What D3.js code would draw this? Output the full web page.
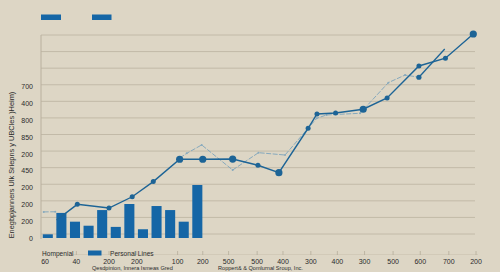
<!DOCTYPE html>
<html>
<head>
<meta charset="utf-8">
<script src="https://cdn.jsdelivr.net/npm/d3@7"></script>
<style>
  html, body { margin: 0; padding: 0; background: #ddd6c5; }
  svg { display: block; }
  text { font-family: "Liberation Sans", Arial, sans-serif; fill: #2b2b2b; }
</style>
</head>
<body>
<svg id="chart" width="500" height="272"></svg>
<script>
// ---- data ----
const yTickValues = [0, 100, 200, 300, 400, 500, 600, 700, 800, 900];
const yTickLabels = ["0", "200", "200", "200", "450", "200", "850", "800", "400", "700"];
const gridValues = [0, 100, 200, 300, 400, 500, 600, 700, 800, 900, 1000, 1100, 1200];

const barPos = [0.5, 1.5, 2.5, 3.5, 4.5, 5.5, 6.5, 7.5, 8.5, 9.5, 10.5, 11.5];
const barValues = [16, 143, 91, 67, 160, 60, 196, 46, 184, 160, 91, 309];

const mainX = [1.15, 2.67, 5.0, 6.71, 8.26, 10.2, 11.9, 14.1, 15.96, 17.5, 19.65, 20.3, 21.67, 23.7, 25.46, 27.8, 29.75, 31.8];
const mainY = [101, 194, 172, 239, 329, 462, 462, 463, 426, 382, 646, 731, 737, 759, 826, 1016, 1062, 1206];
const mainBig = [false, false, false, false, false, true, true, true, false, true, false, false, false, true, false, false, false, true];

const branchX = [27.8, 29.7];
const branchY = [949, 1117];

const lightX = [0.2, 1.05, null, 10.22, 10.72, 11.82, 14.1, 16.0, 17.95, 20.28, 21.0, 23.47, 25.55, 26.78, 27.83];
const lightY = [149, 150, null, 470, 497, 547, 398, 501, 487, 705, 725, 735, 917, 962, 949];

const xTickPos = [0.3, 2.6, 5.0, 7.05, 10.05, 11.9, 13.8, 15.9, 17.8, 19.85, 21.8, 23.8, 25.9, 27.9, 30.0, 32.0];
const xTickLabels = ["60", "40", "200", "200", "100", "200", "500", "500", "400", "300", "400", "300", "500", "600", "700", "200"];

const yTitle = "Enegbpjanners Ulk Sriepns y UBCles )Heim)";
const legendLabels = ["Hompenial", "Personal Lines"];
const sourceLeft = "Qesdpinion, Innera Ismeas Gred";
const sourceRight = "Roppert& & Qomlurnal Sroup,  Inc.";

// ---- drawing ----
const svg = d3.select("#chart");
const blue = "#1566a6";
const lineBlue = "#1d6496";
const lightBlue = "#86a9bd";

const x = d3.scaleLinear().domain([0, 32]).range([41, 476]);
const y = d3.scaleLinear().domain([0, 1200]).range([237, 35]);
const yGrid = d3.scaleLinear().domain([0, 1200]).range([234, 35]);

// gridlines
svg.append("g").selectAll("line").data(gridValues).join("line")
  .attr("x1", 41).attr("x2", 475)
  .attr("y1", d => yGrid(d)).attr("y2", d => yGrid(d))
  .attr("stroke", "#c2baa8").attr("stroke-width", 1);

// left axis line
svg.append("line").attr("x1", 41).attr("x2", 41).attr("y1", 35).attr("y2", 239)
  .attr("stroke", "#b9b09e").attr("stroke-width", 1);

// y tick labels
const yAxis = d3.axisLeft(y).tickValues(yTickValues)
  .tickFormat((d, i) => yTickLabels[i]).tickSize(0).tickPadding(4);
const gy = svg.append("g").attr("transform", "translate(37,1)").call(yAxis);
gy.select(".domain").remove();
gy.selectAll("text").attr("font-size", 7).attr("fill", "#2b2b2b")
  .style("font-family", "Liberation Sans, Arial, sans-serif");

// y title
svg.append("text")
  .attr("transform", "translate(14,165) rotate(-90)")
  .attr("text-anchor", "middle")
  .attr("font-size", 7.4)
  .text(yTitle);

// bars
const bw = x(0.74) - x(0);
svg.append("g").selectAll("rect").data(barValues).join("rect")
  .attr("x", (d, i) => x(barPos[i]) - bw / 2)
  .attr("width", bw)
  .attr("y", d => y(d))
  .attr("height", d => y(0) + 1 - y(d))
  .attr("fill", blue);

// light line
const lightPts = lightX.map((d, i) => d === null ? null : [d, lightY[i]]);
svg.append("path")
  .datum(lightPts)
  .attr("d", d3.line().defined(d => d !== null).x(d => x(d[0])).y(d => y(d[1])))
  .attr("fill", "none").attr("stroke", lightBlue).attr("stroke-width", 1)
  .attr("stroke-dasharray", "5,1.5");
svg.append("g").selectAll("circle").data(lightPts.filter(d => d)).join("circle")
  .attr("cx", d => x(d[0])).attr("cy", d => y(d[1])).attr("r", 1)
  .attr("fill", lightBlue);

// main line
const mainPts = mainX.map((d, i) => [d, mainY[i], mainBig[i]]);
svg.append("path")
  .datum(mainPts)
  .attr("d", d3.line().x(d => x(d[0])).y(d => y(d[1])))
  .attr("fill", "none").attr("stroke", lineBlue).attr("stroke-width", 1.4);
svg.append("g").selectAll("circle").data(mainPts.slice(1)).join("circle")
  .attr("cx", d => x(d[0])).attr("cy", d => y(d[1]))
  .attr("r", d => d[2] ? 3.6 : 2.5)
  .attr("fill", lineBlue);

// branch segment
const branchPts = branchX.map((d, i) => [d, branchY[i]]);
svg.append("path")
  .datum(branchPts)
  .attr("d", d3.line().x(d => x(d[0])).y(d => y(d[1])))
  .attr("fill", "none").attr("stroke", lineBlue).attr("stroke-width", 1.3);
svg.append("circle").attr("cx", x(branchPts[0][0])).attr("cy", y(branchPts[0][1]))
  .attr("r", 2.6).attr("fill", lineBlue);

// top legend swatches
svg.append("rect").attr("x", 41).attr("y", 14.5).attr("width", 20).attr("height", 5.5).attr("fill", blue);
svg.append("rect").attr("x", 92).attr("y", 14.5).attr("width", 19.5).attr("height", 5.5).attr("fill", blue);

// bottom axis
svg.append("line").attr("x1", 72).attr("x2", 478).attr("y1", 254.5).attr("y2", 254.5)
  .attr("stroke", "#cfc7b5").attr("stroke-width", 0.8);
svg.append("g").selectAll("line").data(xTickPos).join("line")
  .attr("x1", d => x(d)).attr("x2", d => x(d)).attr("y1", 251).attr("y2", 255)
  .attr("stroke", "#b5ad9b").attr("stroke-width", 0.8);
svg.append("g").selectAll("text").data(xTickLabels).join("text")
  .attr("x", (d, i) => x(xTickPos[i])).attr("y", 264)
  .attr("text-anchor", "middle").attr("font-size", 7)
  .text(d => d);

// bottom legend
svg.append("text").attr("x", 42).attr("y", 256).attr("font-size", 6.6).text(legendLabels[0]);
svg.append("rect").attr("x", 88).attr("y", 250.5).attr("width", 13.5).attr("height", 5).attr("fill", blue);
svg.append("text").attr("x", 110).attr("y", 256).attr("font-size", 6.6).text(legendLabels[1]);

// source lines
svg.append("text").attr("x", 92).attr("y", 270).attr("font-size", 5.6).attr("fill", "#3a3a3a").text(sourceLeft);
svg.append("text").attr("x", 218).attr("y", 270).attr("font-size", 5.6).attr("fill", "#3a3a3a").text(sourceRight);
</script>
</body>
</html>
